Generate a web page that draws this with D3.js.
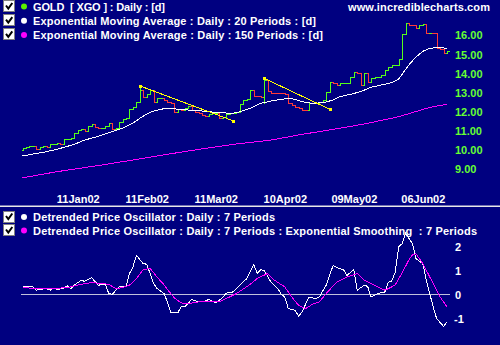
<!DOCTYPE html>
<html>
<head>
<meta charset="utf-8">
<script src="https://cdn.jsdelivr.net/npm/d3@7"></script>
<style>
  html, body { margin: 0; padding: 0; background: #000080; overflow: hidden; }
  svg { display: block; }
  text { font-family: "Liberation Sans", Arial, sans-serif; font-weight: bold; white-space: pre; }
</style>
</head>
<body>
<svg id="chart" width="500" height="345"></svg>
<script>
// ---- trading calendar (ASX) ----
const firstDay = "2001-12-17";
const holidays = ["2001-12-25", "2001-12-26", "2002-01-01", "2002-01-28",
                  "2002-03-29", "2002-04-01", "2002-04-25", "2002-06-10"];
const dateTicks = ["2002-01-11", "2002-02-11", "2002-03-11", "2002-04-10", "2002-05-09", "2002-06-06"];

// ---- GOLD [XGO] daily closes ----
const firstOpen = 9.98;
const closes = [
  10.10, 10.15, 10.20, 10.22, 10.07, 10.15, 10.22, 10.15, 10.29, 10.31,
  10.37, 10.33, 10.55, 10.57, 10.63, 10.88, 11.04, 11.07, 11.00, 11.25,
  11.35, 11.18, 11.13, 11.14, 11.25, 11.39, 11.07, 11.13, 11.47, 11.61,
  11.65, 12.12, 12.22, 12.52, 13.13, 12.78, 12.90, 13.13, 12.52, 12.69,
  12.72, 12.60, 12.48, 12.43, 11.98, 12.13, 12.08, 12.21, 12.29, 12.06,
  11.98, 11.92, 11.82, 11.77, 11.85, 11.92, 11.95, 11.64, 11.74, 11.87,
  11.90, 11.93, 11.99, 12.40, 12.60, 12.64, 13.13, 12.81, 12.79, 12.76,
  13.65, 13.07, 12.98, 12.97, 12.96, 12.95, 12.94, 12.43, 12.34, 12.24,
  12.17, 12.08, 12.06, 12.43, 12.43, 12.45, 12.50, 12.60, 13.04, 13.54,
  13.47, 13.41, 13.48, 13.49, 13.50, 13.81, 14.07, 13.99, 13.39, 14.01,
  13.56, 13.75, 13.81, 13.82, 13.91, 14.17, 14.33, 14.41, 14.43, 14.73,
  16.05, 16.61, 16.52, 16.50, 16.35, 16.52, 16.55, 16.10, 16.13, 16.08,
  15.32, 15.29, 15.06, 15.15
];
// intraday extremes beyond the open/close range: [bar, price]
const wickHigh = [[34, 13.34], [70, 13.74]];
const wickLow = [[70, 12.45]];

// ---- moving averages: [bar, value] ----
const ema20 = [
  [0, 9.68], [3, 9.78], [6, 9.87], [9, 9.99], [12, 10.13], [15, 10.29], [18, 10.51],
  [21, 10.66], [23, 10.78], [26, 10.95], [29, 11.13], [32, 11.39], [34, 11.65],
  [36, 11.87], [38, 12.03], [40, 12.12], [42, 12.17], [48, 12.08], [52, 12.03],
  [57, 11.94], [61, 11.91], [63, 11.99], [66, 12.17], [69, 12.43], [72, 12.55],
  [75, 12.64], [77, 12.69], [79, 12.64], [81, 12.52], [84, 12.43], [87, 12.46],
  [90, 12.60], [92, 12.78], [95, 12.90], [98, 13.04], [101, 13.27], [104, 13.39],
  [107, 13.51], [109, 13.70], [110, 13.95], [112, 14.45], [114, 14.85], [116, 15.15],
  [118, 15.30], [120, 15.35], [121, 15.35], [123, 15.30]
];
const ema150 = [
  [0, 8.54], [10, 8.86], [23, 9.21], [32, 9.47], [42, 9.77], [53, 10.08], [62, 10.31],
  [72, 10.51], [81, 10.81], [89, 11.04], [99, 11.35], [109, 11.73], [118, 12.22], [123, 12.38]
];

// ---- trendlines: [[bar, price], [bar, price]] ----
const trendLines = [
  [[34, 13.34], [61, 11.52]],
  [[70, 13.74], [89, 12.12]]
];
const priceTicks = [9, 10, 11, 12, 13, 14, 15, 16];

// ---- Detrended Price Oscillator (7) and its 7-period smoothing: [bar, value] ----
const dpo = [
  [0, 0.31], [3, 0.31], [4, 0.17], [5, 0.20], [7, 0.24], [8, 0.17], [9, 0.26], [10, 0.20],
  [12, 0.26], [13, 0.35], [14, 0.24], [15, 0.38], [17, 0.59], [18, 0.54], [20, 0.70],
  [22, 0.38], [23, 0.41], [24, 0.41], [25, 0.03], [26, 0.00], [28, 0.31], [30, 0.31],
  [31, 0.87], [32, 1.14], [33, 1.63], [35, 1.28], [36, 1.26], [38, 0.45], [39, 0.24],
  [41, 0.03], [42, -0.32], [43, -0.78], [45, -0.78], [46, -0.50], [47, -0.53], [49, -0.22],
  [51, -0.32], [52, -0.32], [54, -0.22], [56, -0.35], [58, -0.14], [59, 0.05], [61, 0.10],
  [63, 0.38], [65, 0.66], [66, 0.97], [67, 1.26], [68, 0.87], [69, 1.03], [70, 1.00],
  [72, 0.51], [74, 0.24], [75, 0.00], [76, -0.11], [77, -0.60], [79, -0.67], [80, -0.92],
  [81, -0.74], [83, -0.11], [85, -0.18], [86, -0.11], [88, 0.38], [90, 1.21], [91, 1.12],
  [93, 1.03], [94, 0.79], [96, 1.03], [97, 0.17], [99, 0.38], [100, 0.33], [101, -0.11],
  [103, 0.03], [105, 0.10], [106, 0.51], [107, 0.56], [108, 0.93], [109, 1.98], [110, 2.12],
  [111, 2.55], [113, 2.12], [114, 1.49], [116, 1.28], [117, 0.59], [118, 0.03], [119, -0.53],
  [120, -1.02], [122, -1.34], [123, -1.16]
];
const dpoSmooth = [
  [0, 0.31], [3, 0.24], [7, 0.24], [11, 0.26], [14, 0.31], [17, 0.42], [20, 0.49], [23, 0.45],
  [25, 0.42], [27, 0.24], [29, 0.28], [31, 0.38], [33, 0.66], [35, 1.03], [37, 1.08], [39, 0.72],
  [41, 0.40], [42, 0.20], [44, -0.15], [46, -0.36], [48, -0.39], [51, -0.32], [54, -0.32],
  [57, -0.32], [59, -0.18], [62, 0.03], [66, 0.42], [68, 0.66], [71, 0.87], [73, 0.59],
  [76, 0.31], [78, -0.11], [80, -0.46], [82, -0.60], [84, -0.42], [86, -0.32], [88, 0.03],
  [91, 0.51], [94, 0.72], [97, 0.87], [99, 0.59], [102, 0.38], [105, 0.17], [107, 0.31],
  [108, 0.40], [110, 0.90], [112, 1.45], [113, 1.65], [114, 1.70], [116, 1.28], [119, 0.45],
  [121, -0.11], [123, -0.53]
];
const dpoTicks = [-1, 0, 1, 2];

// ---- legends ----
const priceLegend = [
  { label: "GOLD  [ XGO ] : Daily : [d]", color: "#5cf000", width: 132 },
  { label: "Exponential Moving Average : Daily : 20 Periods : [d]", color: "#ffffff", width: 283 },
  { label: "Exponential Moving Average : Daily : 150 Periods : [d]", color: "#ff00ff", width: 290 }
];
const dpoLegend = [
  { label: "Detrended Price Oscillator : Daily : 7 Periods", color: "#ffffff", width: 242 },
  { label: "Detrended Price Oscillator : Daily : 7 Periods : Exponential Smoothing  : 7 Periods", color: "#ff00ff", width: 444 }
];
const siteName = "www.incrediblecharts.com";

// ---- colours ----
const BG = "#000080", UP = "#55ff1a", DOWN = "#ff3a3a", AXIS_GREEN = "#66ff33";

// ---- build the trading-day axis ----
const parse = d3.utcParse("%Y-%m-%d"), iso = d3.utcFormat("%Y-%m-%d"), tickFmt = d3.utcFormat("%d%b%y");
const holidaySet = new Set(holidays);
const dates = [];
for (let d = parse(firstDay); dates.length < closes.length; d = d3.utcDay.offset(d, 1)) {
  const wd = d.getUTCDay();
  if (wd === 0 || wd === 6 || holidaySet.has(iso(d))) continue;
  dates.push(iso(d));
}

const svg = d3.select("#chart");
svg.append("rect").attr("width", 500).attr("height", 345).attr("fill", BG);

const x = d3.scalePoint().domain(dates).range([22.5, 447]);
const xb = i => x(dates[i]);
const y = d3.scaleLinear().domain([9, 16]).range([169, 35]);
const yd = d3.scaleLinear().domain([-1, 2]).range([318.2, 246.5]);
const px = v => Math.round(v) + 0.5;

// ---- price panel ----
const priceG = svg.append("g").attr("shape-rendering", "crispEdges");
const hiMap = new Map(wickHigh), loMap = new Map(wickLow);
const bars = closes.map((c, i) => {
  const o = i ? closes[i - 1] : firstOpen;
  let hi = Math.max(o, c), lo = Math.min(o, c);
  if (hiMap.has(i)) hi = Math.max(hi, hiMap.get(i));
  if (loMap.has(i)) lo = Math.min(lo, loMap.get(i));
  return { i, o, c, hi, lo, up: c >= o };
});
priceG.selectAll("path.bar").data(bars).join("path")
  .attr("class", "bar")
  .attr("fill", "none")
  .attr("stroke", d => d.up ? UP : DOWN)
  .attr("stroke-width", 1)
  .attr("d", d => {
    const X = px(xb(d.i));
    return `M${X - 2},${px(y(d.o))}H${X}M${X},${px(y(d.hi)) - 0.5}V${px(y(d.lo)) + 0.5}M${X},${px(y(d.c))}H${X + 2}`;
  });

const lineP = d3.line().x(d => xb(d[0])).y(d => y(d[1]));
priceG.append("path").datum(ema150).attr("d", lineP)
  .attr("fill", "none").attr("stroke", "#ff00ff").attr("stroke-width", 1);
priceG.append("path").datum(ema20).attr("d", lineP)
  .attr("fill", "none").attr("stroke", "#ffffff").attr("stroke-width", 1);

// trendlines with square end markers
trendLines.forEach(tl => {
  priceG.append("path").datum(tl).attr("d", lineP)
    .attr("fill", "none").attr("stroke", "#ffff00").attr("stroke-width", 1);
  priceG.selectAll(null).data(tl).join("rect")
    .attr("x", d => Math.round(xb(d[0])) - 1).attr("y", d => Math.round(y(d[1])) - 1)
    .attr("width", 3).attr("height", 3).attr("fill", "#ffff00");
});

// price axis
const yAxis = d3.axisRight(y).tickValues(priceTicks).tickFormat(d3.format(".2f")).tickSize(0).tickPadding(0);
const yAxisG = svg.append("g").attr("transform", "translate(455,0)").call(yAxis);
yAxisG.select(".domain").remove();
yAxisG.selectAll("text").attr("fill", AXIS_GREEN).attr("font-size", 11)
  .attr("font-family", null).attr("dy", "0.36em").attr("text-anchor", "start");

// date axis
const xAxis = d3.axisBottom(x).tickValues(dateTicks).tickFormat(d => tickFmt(parse(d))).tickSize(0).tickPadding(0);
const xAxisG = svg.append("g").attr("transform", "translate(0,195)").call(xAxis);
xAxisG.select(".domain").remove();
xAxisG.selectAll("text").attr("fill", "#ffffff").attr("font-size", 11).attr("font-family", null);

// panel separator
svg.append("rect").attr("x", 0).attr("y", 205.5).attr("width", 500).attr("height", 1.5).attr("fill", "#e8e8e8");

// ---- oscillator panel ----
const oscG = svg.append("g").attr("shape-rendering", "crispEdges");
oscG.append("line").attr("x1", 21).attr("x2", 450).attr("y1", px(yd(0))).attr("y2", px(yd(0)))
  .attr("stroke", "#c0c0dc").attr("stroke-width", 1);
const lineD = d3.line().x(d => xb(d[0])).y(d => yd(d[1]));
oscG.append("path").datum(dpo).attr("d", lineD)
  .attr("fill", "none").attr("stroke", "#ffffff").attr("stroke-width", 1);
oscG.append("path").datum(dpoSmooth).attr("d", lineD)
  .attr("fill", "none").attr("stroke", "#ff00ff").attr("stroke-width", 1);

const dAxis = d3.axisRight(yd).tickValues(dpoTicks).tickFormat(d => String(d)).tickSize(0).tickPadding(0);
const dAxisG = svg.append("g").attr("transform", "translate(455,0)").call(dAxis);
dAxisG.select(".domain").remove();
dAxisG.selectAll("text").attr("fill", "#ffffff").attr("font-size", 11)
  .attr("font-family", null).attr("dy", "0.36em").attr("text-anchor", "start")
  .attr("dx", d => d < 0 ? -1 : 0);

// ---- legends ----
function drawLegend(rows, top, step) {
  rows.forEach((r, k) => {
    const t = top + k * step;
    const g = svg.append("g");
    g.append("rect").attr("x", 3.5).attr("y", t + 0.5).attr("width", 11).attr("height", 11)
      .attr("fill", "#ffffff").attr("stroke", "#808080").attr("shape-rendering", "crispEdges");
    g.append("path").attr("d", `M6,${t + 5.5}L8.3,${t + 8.5}L12.3,${t + 3}`)
      .attr("fill", "none").attr("stroke", "#000000").attr("stroke-width", 2);
    g.append("circle").attr("cx", 24).attr("cy", t + 6.5).attr("r", 3).attr("fill", r.color);
    g.append("text").attr("x", 33).attr("y", t + 10.7).attr("fill", "#ffffff").attr("font-size", 11)
      .attr("textLength", r.width).attr("lengthAdjust", "spacing").text(r.label);
  });
}
drawLegend(priceLegend, 0, 14.2);
drawLegend(dpoLegend, 210.5, 13.5);

svg.append("text").attr("x", 348).attr("y", 10.7).attr("fill", "#ffffff").attr("font-size", 11)
  .attr("textLength", 142).attr("lengthAdjust", "spacing").text(siteName);
</script>
</body>
</html>
